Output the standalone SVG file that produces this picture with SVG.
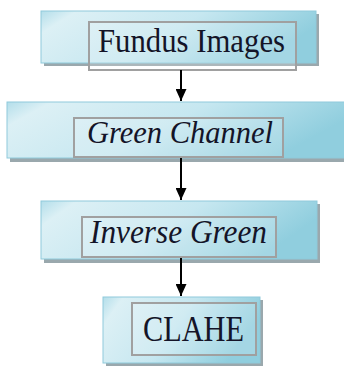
<svg xmlns="http://www.w3.org/2000/svg" width="344" height="366" viewBox="0 0 344 366">
<defs>
<linearGradient id="g" x1="0" y1="0" x2="1" y2="0.3">
<stop offset="0" stop-color="#b3deea"/>
<stop offset="0.12" stop-color="#dcf0f5"/>
<stop offset="0.55" stop-color="#c6e7f0"/>
<stop offset="1" stop-color="#90cede"/>
</linearGradient>
<marker id="ah" viewBox="0 0 12 11" refX="12" refY="5.5" markerWidth="12" markerHeight="11" orient="auto" markerUnits="userSpaceOnUse">
<path d="M0,0 L12,5.5 L0,11 z" fill="#000"/>
</marker>
<style>
.sh{fill:#9aa8ad}
.ob{fill:url(#g);stroke:#8fcadb;stroke-width:1}
.ib{fill:#ffffff;fill-opacity:0.18;stroke:#a0a0a0;stroke-width:2}
.t{fill:#141428}
.c{stroke:#000;stroke-width:2;fill:none;marker-end:url(#ah)}
</style>
</defs>
<g id="node-fundus">
<rect class="sh" x="44" y="14" width="275" height="52"/>
<rect class="ob" x="41" y="11" width="275" height="52"/>
<rect class="ib" x="89" y="22" width="207" height="48"/>
<text class="t" x="98" y="52" font-family="Liberation Serif, DejaVu Serif, serif" font-size="34" textLength="187" lengthAdjust="spacingAndGlyphs">Fundus Images</text>
</g>
<g id="node-green">
<rect class="sh" x="10" y="105" width="340" height="57"/>
<rect class="ob" x="7" y="102" width="340" height="56"/>
<rect class="ib" x="74" y="118" width="209" height="39"/>
<text class="t" x="87" y="143" font-family="Liberation Serif, DejaVu Serif, serif" font-style="italic" font-size="32" textLength="186" lengthAdjust="spacingAndGlyphs">Green Channel</text>
</g>
<g id="node-inverse">
<rect class="sh" x="44" y="204" width="276" height="59"/>
<rect class="ob" x="41" y="201" width="276" height="58"/>
<rect class="ib" x="82" y="217" width="194" height="40"/>
<text class="t" x="90" y="243" font-family="Liberation Serif, DejaVu Serif, serif" font-style="italic" font-size="34" textLength="177" lengthAdjust="spacingAndGlyphs">Inverse Green</text>
</g>
<g id="node-clahe">
<rect class="sh" x="106" y="300" width="157" height="66"/>
<rect class="ob" x="103" y="297" width="157" height="66"/>
<rect class="ib" x="132" y="303" width="124" height="52"/>
<text class="t" x="143" y="341" font-family="Liberation Serif, DejaVu Serif, serif" font-size="36" textLength="101" lengthAdjust="spacingAndGlyphs">CLAHE</text>
</g>
<g id="connectors">
<line class="c" x1="181" y1="70" x2="181" y2="101"/>
<line class="c" x1="181" y1="158" x2="181" y2="200"/>
<line class="c" x1="181" y1="258" x2="181" y2="296"/>
</g>
</svg>
